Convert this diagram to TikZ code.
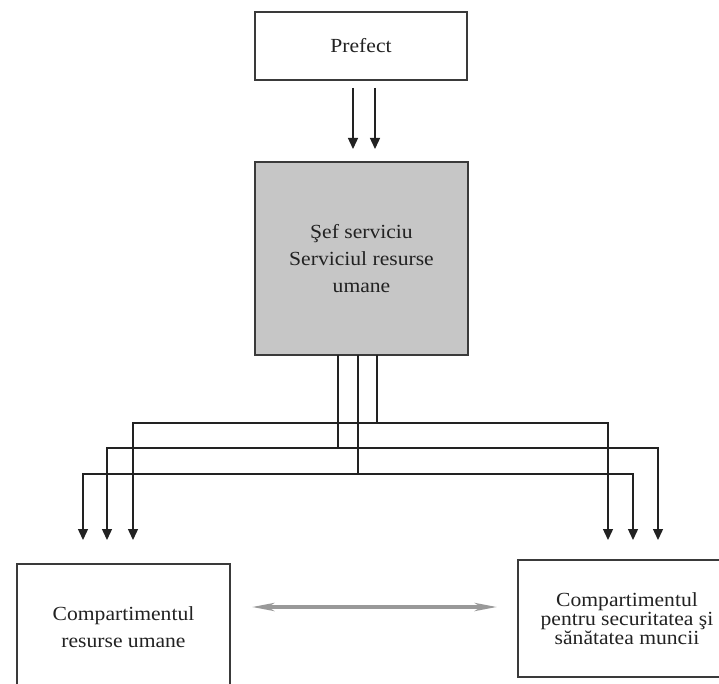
\documentclass[tikz,border=0pt]{standalone}
\usepackage{fontspec}
\setmainfont{Liberation Serif}[FakeStretch=1.08]
\usetikzlibrary{arrows.meta}
\definecolor{boxline}{HTML}{3A3A3A}
\definecolor{boxgray}{HTML}{C6C6C6}
\definecolor{inkc}{HTML}{222222}
\tikzset{
  orgbox/.style={draw=boxline, line width=1.6pt, rectangle, inner sep=0pt, outer sep=0pt,
    align=center, text=inkc, font=\fontsize{20}{27}\selectfont},
  conn/.style={draw=inkc, line width=1.4pt, -{Triangle[length=11pt,width=10pt]}},
  dbl/.style={draw=gray!80, line width=3.5pt, {Stealth[length=22pt,width=8pt,inset=6pt]}-{Stealth[length=22pt,width=8pt,inset=6pt]}}
}
\begin{document}
\begin{tikzpicture}[x=1pt,y=-1pt]
\useasboundingbox (0,0) rectangle (719,684);
\clip (0,0) rectangle (719,684);
\fill[white] (0,0) rectangle (719,684);

\node[orgbox, minimum width=212pt, minimum height=68pt] (prefect) at (361,46) {Prefect};
\node[orgbox, fill=boxgray, minimum width=213pt, minimum height=193pt] (sef) at (361.5,258.5)
  {Şef serviciu\\Serviciul resurse\\umane};
\node[orgbox, minimum width=213pt, minimum height=126pt] (lbox) at (123.5,627)
  {Compartimentul\\resurse umane};
\node[orgbox, minimum width=218pt, minimum height=117pt, font=\fontsize{20}{19}\selectfont] (rbox) at (627,618.5)
  {Compartimentul\\pentru securitatea şi\\sănătatea muncii};

% arrows from Prefect
\coordinate (p1) at (353,149);
\coordinate (p2) at (375,149);
\draw[conn, shorten <=8pt] ([xshift=-8pt]prefect.south) -- (p1);
\draw[conn, shorten <=8pt] ([xshift=14pt]prefect.south) -- (p2);

% arrow end points
\coordinate (l1) at (133,540);
\coordinate (l2) at (107,540);
\coordinate (l3) at (83,540);
\coordinate (r1) at (608,540);
\coordinate (r2) at (658,540);
\coordinate (r3) at (633,540);

% three buses
\draw[conn] ([xshift=15.5pt]sef.south) -- ++(0,68) -| (l1);
\draw[conn] ([xshift=15.5pt]sef.south) -- ++(0,68) -| (r1);
\draw[conn] ([xshift=-23.5pt]sef.south) -- ++(0,93) -| (l2);
\draw[conn] ([xshift=-23.5pt]sef.south) -- ++(0,93) -| (r2);
\draw[conn] ([xshift=-3.5pt]sef.south) -- ++(0,119) -| (l3);
\draw[conn] ([xshift=-3.5pt]sef.south) -- ++(0,119) -| (r3);

% double arrow between bottom boxes
\draw[dbl] ([shift={(22pt,20pt)}]lbox.east) -- ([shift={(-21pt,11.5pt)}]rbox.west);
\end{tikzpicture}
\end{document}
